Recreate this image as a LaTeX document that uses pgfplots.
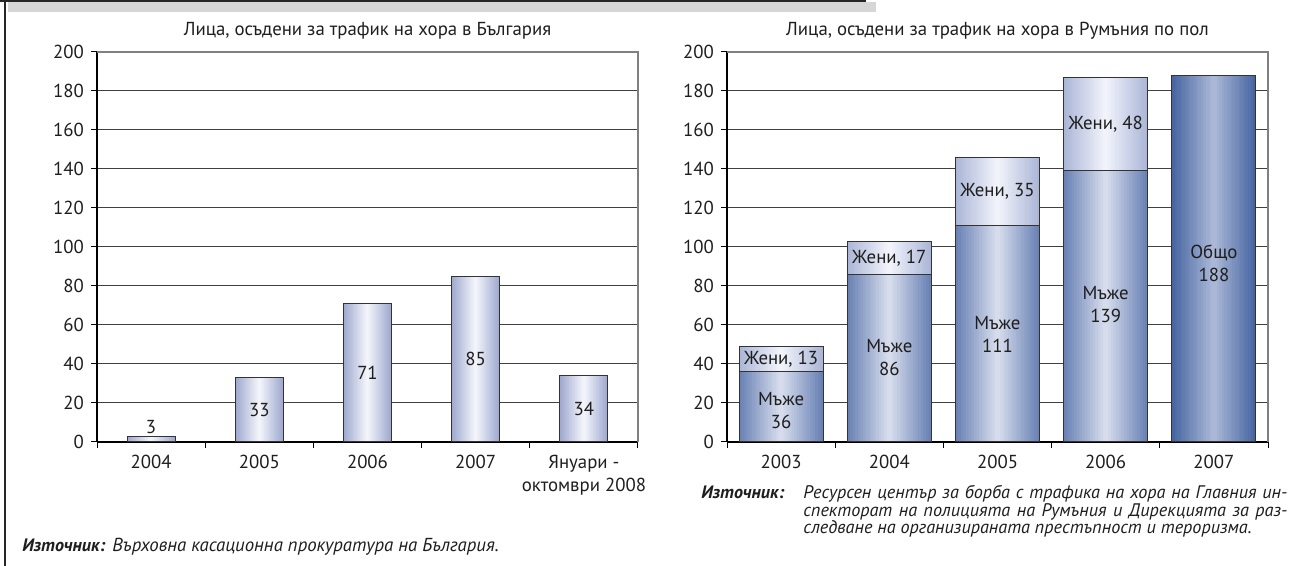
\documentclass[border=0pt]{standalone}
\usepackage{fontspec}
\setmainfont{PT Sans}
\usepackage{pgfplots}
\pgfplotsset{compat=1.18}

\definecolor{lbE}{HTML}{A0AAD0}
\definecolor{lbM}{HTML}{F3F4FA}
\definecolor{mnE}{HTML}{6A82B5}
\definecolor{mnM}{HTML}{D6DCEC}
\definecolor{wmE}{HTML}{ACB7D8}
\definecolor{wmM}{HTML}{F1F3FA}
\definecolor{ttE}{HTML}{4766A2}
\definecolor{ttM}{HTML}{AAB7D7}
\definecolor{txt}{HTML}{1E1E1E}

\newcommand\fs{\fontsize{9.4}{11.5}\selectfont}
\newcommand\fsb{\fontsize{9}{10}\selectfont}
\newcommand\fss{\fontsize{9.1}{10}\selectfont}

\tikzset{lab/.style={font=\fs, text=txt, align=center, inner sep=0pt}}

% gradient bar: #1 width (pt, number), #2 edge colour, #3 centre colour, #4 coordinates
\newcommand\gbar[4]{%
  \pgfplotsinvokeforeach{0,...,15}{%
    \pgfmathsetmacro\gw{#1*(16-##1)/16}%
    \pgfmathtruncatemacro\gp{round(100*##1/15)}%
    \edef\gtmp{\noexpand\addplot[ybar, bar width=\gw pt, fill=#3!\gp!#2, draw=none, forget plot] coordinates {#4};}%
    \gtmp
  }%
  \addplot[ybar, bar width=#1pt, fill=none, draw=black!80, line width=0.5pt, forget plot] coordinates {#4};
}

\pgfplotsset{
  mychart/.style={
    scale only axis, width=270.5pt, height=195pt,
    xmin=-0.5, xmax=4.5, ymin=0, ymax=200,
    ytick={0,20,...,200},
    xtick={0,...,4},
    minor xtick={-0.5,0.5,...,4.5},
    axis x line*=bottom, axis y line*=left,
    axis line style={black, line width=0.6pt, -},
    tick align=outside,
    major tick length=3pt, minor tick length=3pt,
    major x tick style={draw=none},
    tick style={black, line width=0.5pt},
    ytick pos=left, xtick pos=bottom,
    ymajorgrids,
    major grid style={black!75, line width=0.5pt},
    tick label style={font=\fs, text=txt},
    xticklabel style={align=center},
    /pgf/number format/assume math mode=true,
    clip=false,
  },
}

\begin{document}
\begin{tikzpicture}
\path[use as bounding box] (0,0) rectangle (655pt,283pt);

% frame
\fill[black!16] (4pt,277pt) rectangle (438pt,282pt);
\draw[black!85, line width=1pt] (0pt,282.5pt) -- (433pt,282.5pt);
\draw[black!85, line width=1.2pt] (2.5pt,0pt) -- (2.5pt,283pt);

% ---------- left chart
\begin{axis}[mychart, at={(48.5pt,62pt)}, anchor=south west,
  xticklabels={2004,2005,2006,2007,{Януари -\\октомври 2008}}]
\gbar{24}{lbE}{lbM}{(0,3) (1,33) (2,71) (3,85) (4,34)}
\draw[black!50, line width=1pt] (rel axis cs:0,1) -- (rel axis cs:1,1) -- (rel axis cs:1,0);
\node[lab, anchor=south] at (axis cs:0,4) {3};
\node[lab] at (axis cs:1,16.5) {33};
\node[lab] at (axis cs:2,35.5) {71};
\node[lab] at (axis cs:3,42.5) {85};
\node[lab] at (axis cs:4,17) {34};
\end{axis}

% ---------- right chart
\begin{axis}[mychart, at={(363.5pt,62pt)}, anchor=south west,
  xticklabels={2003,2004,2005,2006,2007}]
% totals (men + women) drawn first, men drawn over them
\gbar{42}{wmE}{wmM}{(0,49) (1,103) (2,146) (3,187)}
\gbar{42}{mnE}{mnM}{(0,36) (1,86) (2,111) (3,139)}
\gbar{42}{ttE}{ttM}{(4,188)}
\draw[black!50, line width=1pt] (rel axis cs:0,1) -- (rel axis cs:1,1) -- (rel axis cs:1,0);
\node[lab] at (axis cs:0,16) {Мъже\\36};
\node[lab] at (axis cs:1,43.5) {Мъже\\86};
\node[lab] at (axis cs:2,55) {Мъже\\111};
\node[lab] at (axis cs:3,70.5) {Мъже\\139};
\node[lab] at (axis cs:4,91.5) {Общо\\188};
\node[lab] at (axis cs:0,42.5) {Жени, 13};
\node[lab] at (axis cs:1,94.5) {Жени, 17};
\node[lab] at (axis cs:2,128.5) {Жени, 35};
\node[lab] at (axis cs:3,163) {Жени, 48};
\end{axis}

% titles
\node[font=\fs, text=txt, anchor=base, inner sep=0pt] at (183.75pt,265pt) {Лица, осъдени за трафик на хора в България};
\node[font=\fs, text=txt, anchor=base, inner sep=0pt] at (498.75pt,265pt) {Лица, осъдени за трафик на хора в Румъния по пол};

% sources
\node[font=\fsb\bfseries\itshape, text=txt, anchor=base west, inner sep=0pt] at (11pt,7pt) {Източник:};
\node[font=\fs\itshape, text=txt, anchor=base west, inner sep=0pt] at (56pt,7pt) {Върховна касационна прокуратура на България.};

\node[font=\fsb\bfseries\itshape, text=txt, anchor=base west, inner sep=0pt] at (350.5pt,33.5pt) {Източник:};
\node[font=\fss\itshape, text=txt, anchor=base west, inner sep=0pt] at (401.5pt,33.5pt) {\makebox[242pt][s]{Ресурсен център за борба с трафика на хора на Главния ин-}};
\node[font=\fss\itshape, text=txt, anchor=base west, inner sep=0pt] at (401.5pt,24.75pt) {\makebox[242pt][s]{спекторат на полицията на Румъния и Дирекцията за раз-}};
\node[font=\fss\itshape, text=txt, anchor=base west, inner sep=0pt] at (401.5pt,16pt) {следване на организираната престъпност и тероризма.};
\end{tikzpicture}
\end{document}
